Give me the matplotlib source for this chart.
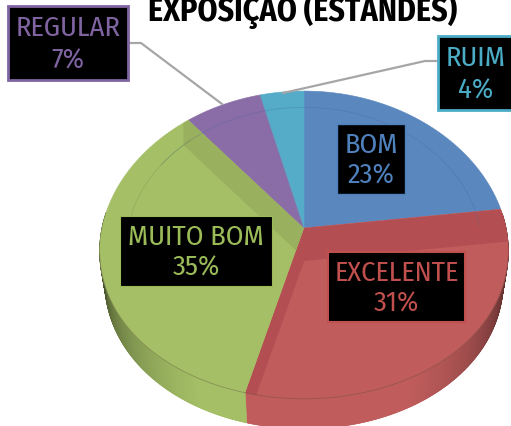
import matplotlib
matplotlib.use("Agg")
import logging
import matplotlib.pyplot as plt
import numpy as np
from matplotlib.patches import Polygon, Rectangle

logging.getLogger("matplotlib.font_manager").setLevel(logging.ERROR)

categories = ["BOM", "EXCELENTE", "MUITO BOM", "REGULAR", "RUIM"]
shares = [23, 31, 35, 7, 4]
colors = ["#5B87BF", "#C05C5C", "#A4BF66", "#8A6DA6", "#55ACC8"]
text_colors = ["#4F81BD", "#C0504D", "#9BBB59", "#8064A2", "#4BACC6"]
shades = [None, "#B34F52", "#99B05E", "#7B6299", None]
title = "EXPOSIÇÃO (ESTANDES)"

cx, cy = 304, 229
a, b = 202, 152
kx, ky = 0.15, 0.11
depth = 30
font = ["Fira Sans Condensed", "Roboto Condensed", "Liberation Sans"]


def project(theta, r=1.0):
    # theta clockwise from the back of the pie, small perspective on depth
    X = r * np.sin(theta)
    Y = -r * np.cos(theta)
    return cx + a * X / (1 - kx * Y), cy + b * Y / (1 - ky * Y)


fig = plt.figure(figsize=(5.11, 4.27), dpi=100)
ax = fig.add_axes([0, 0, 1, 1])
ax.set_xlim(0, 511)
ax.set_ylim(427, 0)
ax.axis("off")

ends = np.cumsum(shares) / 100 * 2 * np.pi
starts = np.r_[0, ends[:-1]]

# side wall, darker towards the edges, bottom rim pulled in a bit
for s, e, c in zip(starts, ends, colors):
    for t in np.arange(s, e, 0.006):
        if np.cos(t) > 0.1:
            continue
        x, y = project(np.array([t, min(t + 0.009, e)]))
        xb = cx + (x - cx) * 0.975
        f = 0.28 + 0.72 * min(1, abs(np.cos(t)) * 1.12)
        rgb = np.array(matplotlib.colors.to_rgb(c)) * f
        ax.add_patch(Polygon([(x[0], y[0]), (x[1], y[1]), (xb[1], y[1] + depth), (xb[0], y[0] + depth)],
                             fc=rgb, ec=rgb, lw=0.5))

# top face
faces = []
for s, e, c in zip(starts, ends, colors):
    th = np.linspace(s, e, 120)
    x, y = project(th)
    pts = np.vstack([[cx, cy], np.column_stack([x, y])])
    face = Polygon(pts, fc=c, ec=c, lw=0.4, zorder=2)
    ax.add_patch(face)
    faces.append((face, s, e))

# bevel bands along the slice edges
bands = {1: [("start", 0, 33), ("end", 12, 0)], 2: [("end", 0, 30)], 3: [("end", 8, 0)]}
for i, spec in bands.items():
    face, s, e = faces[i]
    for side, dx, dy in spec:
        px, py = project(s if side == "start" else e, 1.05)
        band = Polygon([(cx, cy), (px, py), (px + dx, py + dy), (cx + dx, cy + dy)],
                       fc=shades[i], ec="none", zorder=3)
        ax.add_patch(band)
        band.set_clip_path(face)

# faint inner ring
th = np.linspace(-1.05, 1.55, 200)
x, y = project(th, 0.87)
ax.plot(x, y, color="#3F6797", lw=0.5, alpha=0.35, zorder=4)
th = np.linspace(4.3, 5.5, 80)
x, y = project(th, 0.87)
ax.plot(x, y, color="#6F8A40", lw=0.5, alpha=0.35, zorder=4)

# thin darker line where the top face meets the wall
th = np.linspace(1.75, 4.55, 200)
x, y = project(th)
ax.plot(x, y, color="#5A4A3A", lw=0.6, alpha=0.4, zorder=4)

# leader lines
ax.plot([128, 141, 222], [44, 44, 105], color="#A6A6A6", lw=1.6, zorder=5)
ax.plot([438, 425, 283], [62, 62, 94], color="#A6A6A6", lw=1.6, zorder=5)

# label boxes
boxes = {"BOM": (337, 125, 68, 70, 1.0), "EXCELENTE": (328, 253, 137, 70, 1.5),
         "MUITO BOM": (120, 217, 152, 70, 0.8), "REGULAR": (8, 7, 120, 74, 2.0),
         "RUIM": (438, 37, 80, 74, 2.0)}
for name, share, tc in zip(categories, shares, text_colors):
    x0, y0, w, h, lw = boxes[name]
    ax.add_patch(Rectangle((x0, y0), w, h, fc="black", ec=tc, lw=lw, zorder=6))
    xc = x0 + w / 2 if name != "RUIM" else 476
    ax.text(xc, y0 + h * 0.29, name, color=tc, fontsize=20.5, family=font, ha="center", va="center", zorder=7)
    ax.text(xc, y0 + h * 0.73, f"{share}%", color=tc, fontsize=20.5, family=font, ha="center", va="center", zorder=7)

ax.text(303, 21, title, color="black", fontsize=23, fontweight="bold", family=font, ha="center", va="baseline")

fig.savefig("out.png", dpi=100)
